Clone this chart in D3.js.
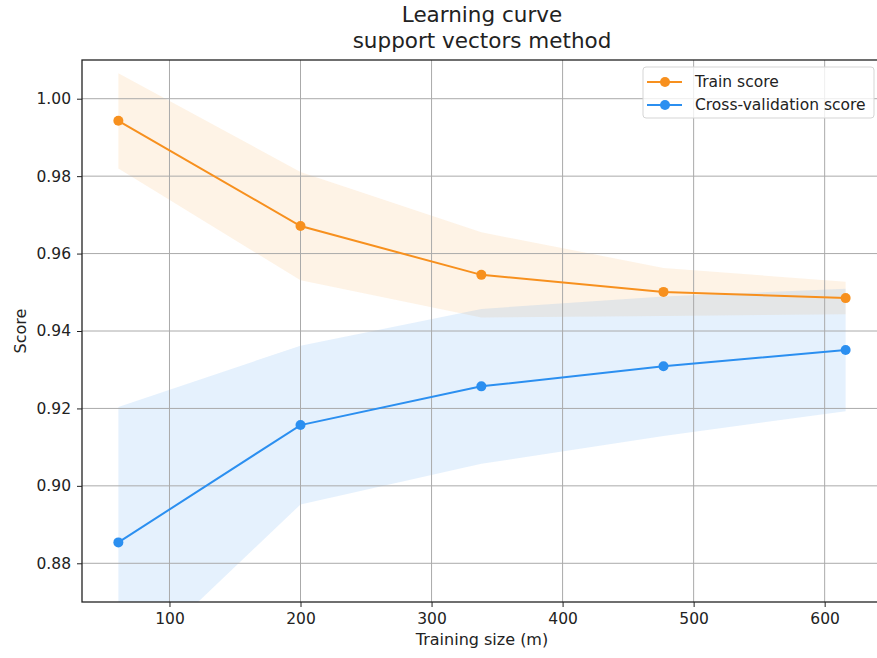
<!DOCTYPE html>
<html>
<head>
    <script src="https://d3js.org/d3.v7.min.js"></script>
    <style>
        body { margin: 0; background: #fff; }
        svg { display: block; font-family: 'DejaVu Sans', sans-serif; }
    </style>
</head>
<body>

<script>
// values
const trainSizes = [61, 200, 338, 477, 616];
const trainMean = [0.9943, 0.9671, 0.9545, 0.9501, 0.9485];
const trainStd = [0.0123, 0.0140, 0.0110, 0.0062, 0.0042];
const cvMean = [0.8854, 0.9157, 0.9257, 0.9309, 0.9351];
const cvStd = [0.0350, 0.0205, 0.0200, 0.0180, 0.0158];
const xTicks = [100, 200, 300, 400, 500, 600];
const yTicks = [0.88, 0.90, 0.92, 0.94, 0.96, 0.98, 1.00];
const seriesNames = ['Train score', 'Cross-validation score'];

const trainColor = '#f7901e';
const cvColor = '#2b8ff0';

drawChart();

function drawChart() {
    const margin = { top: 60, left: 82 };
    const width = 800;
    const height = 542;

    const root = d3.select('body')
        .append('svg')
        .attr('width', 877)
        .attr('height', 658);

    const svg = root.append('g')
        .attr('transform', `translate(${margin.left},${margin.top})`);

    const xScale = d3.scaleLinear()
        .domain([33.25, 643.75])
        .range([0, width]);

    const yScale = d3.scaleLinear()
        .domain([0.87, 1.01])
        .range([height, 0]);

    svg.append('clipPath')
        .attr('id', 'plot-clip')
        .append('rect')
        .attr('width', width)
        .attr('height', height);

    const train = trainSizes.map((s, i) => ({ x: s, y: trainMean[i], sd: trainStd[i] }));
    const cv = trainSizes.map((s, i) => ({ x: s, y: cvMean[i], sd: cvStd[i] }));

    const band = d3.area()
        .x(d => xScale(d.x))
        .y0(d => yScale(d.y - d.sd))
        .y1(d => yScale(d.y + d.sd));

    const line = d3.line()
        .x(d => xScale(d.x))
        .y(d => yScale(d.y));

    // shaded +/- std bands
    const bands = svg.append('g').attr('clip-path', 'url(#plot-clip)');
    bands.append('path')
        .datum(train)
        .attr('d', band)
        .attr('fill', trainColor)
        .attr('fill-opacity', 0.11);
    bands.append('path')
        .datum(cv)
        .attr('d', band)
        .attr('fill', cvColor)
        .attr('fill-opacity', 0.12);

    // grid
    svg.append('g')
        .selectAll('line')
        .data(xTicks)
        .enter()
        .append('line')
        .attr('x1', d => xScale(d))
        .attr('x2', d => xScale(d))
        .attr('y1', 0)
        .attr('y2', height)
        .attr('stroke', '#aaaaaa')
        .attr('stroke-width', 1);

    svg.append('g')
        .selectAll('line')
        .data(yTicks)
        .enter()
        .append('line')
        .attr('x1', 0)
        .attr('x2', width)
        .attr('y1', d => yScale(d))
        .attr('y2', d => yScale(d))
        .attr('stroke', '#aaaaaa')
        .attr('stroke-width', 1);

    // lines and markers
    [[train, trainColor], [cv, cvColor]].forEach(([data, color]) => {
        svg.append('path')
            .datum(data)
            .attr('d', line)
            .attr('fill', 'none')
            .attr('stroke', color)
            .attr('stroke-width', 2);

        svg.append('g')
            .selectAll('circle')
            .data(data)
            .enter()
            .append('circle')
            .attr('cx', d => xScale(d.x))
            .attr('cy', d => yScale(d.y))
            .attr('r', 5)
            .attr('fill', color);
    });

    // axes
    const xAxis = svg.append('g')
        .attr('transform', `translate(0, ${height})`)
        .call(d3.axisBottom(xScale).tickValues(xTicks).tickSize(5).tickPadding(6));

    const yAxis = svg.append('g')
        .call(d3.axisLeft(yScale).tickValues(yTicks).tickFormat(d3.format('.2f')).tickSize(5).tickPadding(6));

    [xAxis, yAxis].forEach(ax => {
        ax.select('.domain').remove();
        ax.selectAll('text')
            .attr('font-family', "'DejaVu Sans', sans-serif")
            .attr('font-size', 15.5)
            .attr('fill', '#222');
        ax.selectAll('line').attr('stroke', '#222');
    });

    // frame
    svg.append('rect')
        .attr('width', width)
        .attr('height', height)
        .attr('fill', 'none')
        .attr('stroke', '#222')
        .attr('stroke-width', 1.3);

    // labels and title
    svg.append('text')
        .attr('x', width / 2)
        .attr('y', height + 43)
        .attr('text-anchor', 'middle')
        .attr('font-size', 16)
        .attr('fill', '#222')
        .text('Training size (m)');

    svg.append('text')
        .attr('x', -height / 2)
        .attr('y', -margin.left + 26)
        .attr('transform', 'rotate(-90)')
        .attr('text-anchor', 'middle')
        .attr('font-size', 16)
        .attr('fill', '#222')
        .text('Score');

    svg.append('text')
        .attr('x', width / 2)
        .attr('y', -38)
        .attr('text-anchor', 'middle')
        .attr('font-size', 21.5)
        .attr('fill', '#222')
        .text('Learning curve');

    svg.append('text')
        .attr('x', width / 2)
        .attr('y', -12)
        .attr('text-anchor', 'middle')
        .attr('font-size', 21.5)
        .attr('fill', '#222')
        .text('support vectors method');

    // legend
    const legend = svg.append('g')
        .attr('transform', `translate(561, 7)`);

    legend.append('rect')
        .attr('width', 231)
        .attr('height', 51)
        .attr('rx', 3)
        .attr('fill', '#fff')
        .attr('fill-opacity', 0.8)
        .attr('stroke', '#d5d5d5');

    const entries = legend.selectAll('g.entry')
        .data(seriesNames)
        .enter()
        .append('g')
        .attr('class', 'entry')
        .attr('transform', (d, i) => `translate(0, ${15 + i * 23})`);

    entries.append('line')
        .attr('x1', 4)
        .attr('x2', 39)
        .attr('stroke', (d, i) => i === 0 ? trainColor : cvColor)
        .attr('stroke-width', 2);

    entries.append('circle')
        .attr('cx', 22)
        .attr('r', 5)
        .attr('fill', (d, i) => i === 0 ? trainColor : cvColor);

    entries.append('text')
        .attr('x', 52)
        .attr('dy', '0.35em')
        .attr('font-size', 15.5)
        .attr('fill', '#222')
        .text(d => d);
}
</script>

</body>
</html>
